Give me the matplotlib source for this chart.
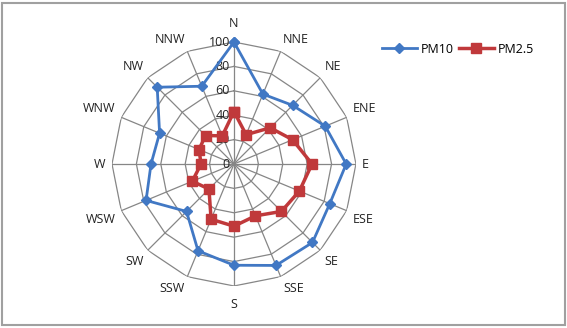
import matplotlib.pyplot as plt
import numpy as np
from matplotlib.patches import Rectangle

directions = ['N', 'NNE', 'NE', 'ENE', 'E', 'ESE', 'SE', 'SSE',
              'S', 'SSW', 'SW', 'WSW', 'W', 'WNW', 'NW', 'NNW']
pm10 = [100, 62, 68, 81, 92, 85, 91, 90, 83, 77, 55, 78, 68, 66, 89, 69]
pm25 = [43, 26, 42, 52, 64, 58, 55, 46, 51, 49, 29, 37, 27, 31, 33, 25]
rticks = [0, 20, 40, 60, 80, 100]

plt.rcParams['font.family'] = ['Open Sans', 'DejaVu Sans']

fig = plt.figure(figsize=(5.67, 3.28), dpi=100)
fig.patches.append(Rectangle((2 / 567, 3 / 328), 563 / 567, 322 / 328,
                             transform=fig.transFigure, fill=False,
                             edgecolor='#a0a0a0', lw=1.5))

ax = fig.add_axes([0.1975, 0.128, 0.4303, 0.744], projection='polar')
ax.set_theta_zero_location('N')
ax.set_theta_direction(-1)
ax.set_ylim(0, 100)
ax.grid(False)
ax.spines['polar'].set_visible(False)
ax.set_xticks([])
ax.set_yticks([])
ax.patch.set_alpha(0)

theta = np.linspace(0, 2 * np.pi, len(directions), endpoint=False)
closed = np.append(theta, theta[0])

# polygon grid, like excel does it
for r in rticks[1:]:
    ax.plot(closed, [r] * len(closed), color='#868686', lw=0.9, zorder=1)
for t in theta:
    ax.plot([t, t], [0, 100], color='#868686', lw=0.9, zorder=1)

# value labels left of the north spoke
for r in rticks:
    ax.annotate(str(r), xy=(0, r), xytext=(-3, 0), textcoords='offset points',
                ha='right', va='center', fontsize=9, color='#222222', zorder=2)

# direction labels just outside the outer ring
for t, lab in zip(theta, directions):
    s, c = np.sin(t), np.cos(t)
    ha = 'center' if abs(s) < 0.01 else ('left' if s > 0 else 'right')
    va = 'center' if abs(c) < 0.01 else ('bottom' if c > 0 else 'top')
    off = 9 if abs(s) < 0.01 else 4.5
    ax.annotate(lab, xy=(t, 100), xytext=(s * off, c * off),
                textcoords='offset points', ha=ha, va=va, fontsize=9,
                color='#222222', annotation_clip=False)

ax.plot(closed, np.append(pm10, pm10[0]), color='#4178c4', lw=2,
        marker='D', ms=5.5, label='PM10', zorder=4, clip_on=False)
ax.plot(closed, np.append(pm25, pm25[0]), color='#c0393b', lw=2.5,
        marker='s', ms=7, label='PM2.5', zorder=3, clip_on=False)

fig.legend(loc='center left', bbox_to_anchor=(0.653, 0.85), ncol=2,
           frameon=False, fontsize=9, handlelength=2.8, columnspacing=0.45,
           handletextpad=0.3)

fig.savefig('out.png', dpi=100)
